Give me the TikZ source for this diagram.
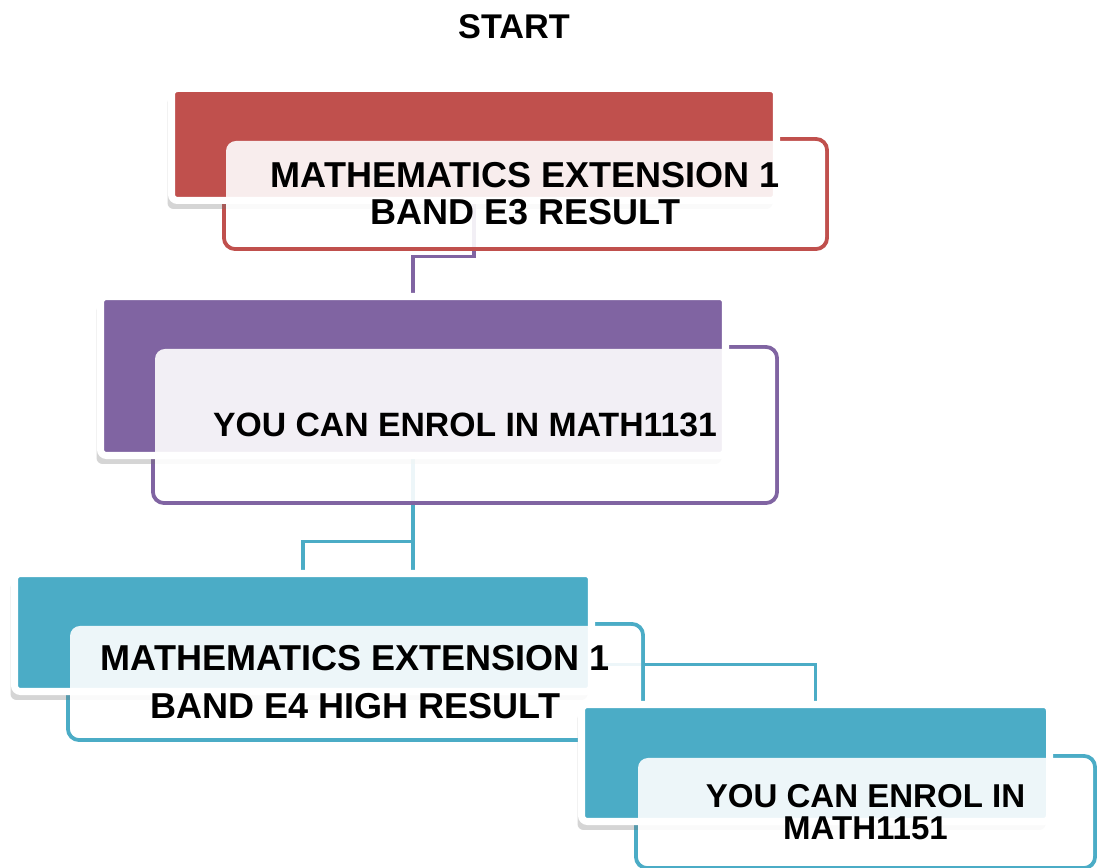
\documentclass[tikz,border=0pt]{standalone}
\usepackage{fontspec}
\setsansfont{Liberation Sans}
\usepackage{xcolor}
\usetikzlibrary{shadows, backgrounds}

\definecolor{boxred}{HTML}{C0504D}
\definecolor{boxpurple}{HTML}{8064A2}
\definecolor{boxteal}{HTML}{4BACC6}

\begin{document}
\begin{tikzpicture}[
    backbox/.style={draw=white, line width=4pt, fill=#1, rounded corners=0.12cm, inner sep=0pt, drop shadow={shadow xshift=-0.08cm, shadow yshift=-0.17cm, opacity=0.3, fill=black!55}},
    frontbox/.style={draw=#1, line width=2.2pt, rounded corners=0.22cm, inner sep=0pt},
    cover/.style={fill=white, fill opacity=0.9, text opacity=1, rounded corners=0.2cm, inner sep=0pt, align=center},
    link/.style={draw=#1, line width=2.2pt}
]
    \useasboundingbox (0,0) rectangle (22,17.36);

    \node[font=\fontsize{19.5}{21}\selectfont\sffamily\bfseries] (start) at (10.28,16.82) {START};

    % Band E3
    \node[frontbox=boxred, minimum width=12.06cm, minimum height=2.20cm] (e3front) at (10.51,13.48) {};
    \node[backbox=boxred, minimum width=12.10cm, minimum height=2.24cm] (e3back) at (9.48,14.47) {};
    \node[cover, minimum width=11.98cm, minimum height=2.12cm, font=\fontsize{20.5}{21}\selectfont\sffamily\bfseries] (e3) at (e3front) {MATHEMATICS EXTENSION 1\\BAND E3 RESULT};

    % MATH1131
    \node[frontbox=boxpurple, minimum width=12.48cm, minimum height=3.12cm] (m1131front) at (9.30,8.86) {};
    \node[backbox=boxpurple, minimum width=12.50cm, minimum height=3.18cm] (m1131back) at (8.26,9.84) {};
    \node[cover, minimum width=12.40cm, minimum height=3.04cm, font=\fontsize{19.2}{21}\selectfont\sffamily\bfseries] (m1131) at (m1131front) {YOU CAN ENROL IN MATH1131};

    % Band E4
    \node[frontbox=boxteal, minimum width=11.50cm, minimum height=2.32cm] (e4front) at (7.11,3.72) {};
    \node[backbox=boxteal, minimum width=11.54cm, minimum height=2.36cm] (e4back) at (6.06,4.71) {};
    \node[cover, minimum width=11.42cm, minimum height=2.24cm, font=\fontsize{20.5}{27}\selectfont\sffamily\bfseries] (e4) at (e4front) {MATHEMATICS EXTENSION 1\\BAND E4 HIGH RESULT};

    % MATH1151
    \node[frontbox=boxteal, minimum width=9.18cm, minimum height=2.24cm] (m1151front) at (17.31,1.12) {};
    \node[backbox=boxteal, minimum width=9.36cm, minimum height=2.34cm] (m1151back) at (16.31,2.10) {};
    \node[cover, minimum width=9.10cm, minimum height=2.16cm, font=\fontsize{18.8}{18.2}\selectfont\sffamily\bfseries] (m1151) at (m1151front) {YOU CAN ENROL IN\\MATH1151};

    % connectors
    \begin{scope}[on background layer]
        \draw[link=boxpurple] (e3back.south) -- ++(0,-1.05) -| (m1131back.north);
        \draw[link=boxteal] (m1131back.south) -- ++(0,-1.65) -| (e4back.north);
        \draw[link=boxteal] (m1131back.south) -- ++(0,-4.11) -| (m1151back.north);
    \end{scope}
\end{tikzpicture}
\end{document}
